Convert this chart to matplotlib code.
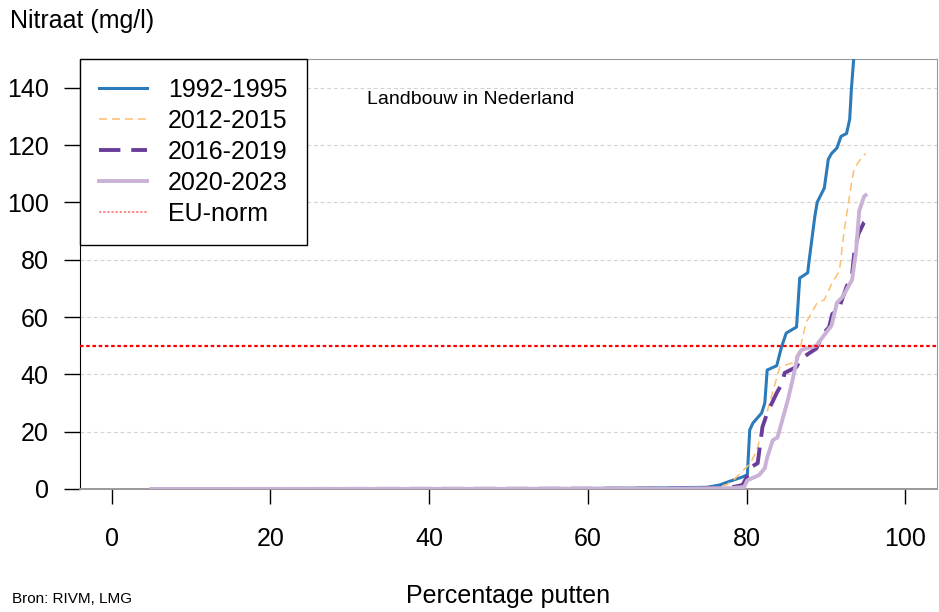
import matplotlib
matplotlib.use("Agg")
import matplotlib.pyplot as plt
from matplotlib.lines import Line2D

plt.rcParams["font.family"] = ["Liberation Sans", "DejaVu Sans"]

# nitraat per percentiel van de putten, per periode
x_1992 = [5, 60, 70, 75, 76.6, 78.2, 79.5, 80.1, 80.4, 80.8, 81.9, 82.3, 82.6, 83.8, 84.4,
          85.0, 86.3, 86.7, 87.7, 87.9, 88.6, 88.9, 89.8, 90.3, 90.7, 91.4, 91.9, 92.6, 93.0,
          93.2, 93.5, 94.0, 95.0]
y_1992 = [0, 0.2, 0.4, 0.6, 1.4, 3.0, 4.2, 5.0, 20.6, 23, 26.5, 30, 41.5, 43, 49.5,
          54.4, 56.5, 73.6, 75.4, 80, 95, 100, 105, 115, 117, 119, 123, 124, 129,
          139, 150, 165, 190]

x_2012 = [5, 70, 76, 77.5, 78.5, 79.4, 80.5, 81.3, 82.9, 84.2, 85.8, 86.7, 87.5, 88.9,
          89.8, 90.8, 91.7, 92.3, 93.3, 93.6, 94.6, 95.0]
y_2012 = [0, 0.2, 0.5, 1.5, 3.5, 6, 9, 13.6, 30, 42.6, 44, 48.5, 58, 65,
          66, 72, 76, 90, 108, 112, 116, 117]

x_2016 = [5, 70, 77, 78.5, 79.5, 80.0, 80.6, 81.4, 82.0, 82.6, 83.8, 84.5, 84.8, 86.3,
          86.7, 87.9, 88.8, 89.6, 90.4, 90.8, 91.7, 92.6, 93.3, 93.6, 94.1, 94.8, 95.0]
y_2016 = [0, 0.1, 0.3, 0.8, 1.4, 4, 7.7, 9, 21.6, 26.5, 33.5, 37, 40.5, 42.6,
          45, 47.4, 49, 54, 56.5, 61, 63.5, 70.5, 75, 83, 89, 93, 93.5]

x_2020 = [5, 70, 78, 79.7, 80.1, 81.6, 82.3, 82.6, 83.3, 83.9, 84.5, 85.2, 85.8, 86.4,
          86.9, 88.8, 89.6, 90.7, 91.4, 92.1, 93.3, 93.8, 94.2, 94.8, 95.0]
y_2020 = [0, 0.1, 0.3, 0.7, 3, 4.9, 7.3, 11, 17, 18, 24, 31, 38, 46,
          48.5, 50, 53, 57, 65, 67, 73, 83, 97, 102, 102.5]

eu_norm = 50

periods = ["1992-1995", "2012-2015", "2016-2019", "2020-2023"]
colors = ["#2b7bba", "#fdbf6f", "#6a3d9a", "#cab2d6"]
styles = ["-", (0, (5.2, 3.3)), (0, (5.5, 2.8)), "-"]
widths = [2.2, 1.1, 2.8, 2.8]

x_ticks = [0, 20, 40, 60, 80, 100]
y_ticks = [0, 20, 40, 60, 80, 100, 120, 140]

fig = plt.figure(figsize=(9.39, 6.12), dpi=100)
ax = fig.add_axes([80 / 939, 1 - 489 / 612, 857 / 939, 430 / 612])
ax.set_xlim(-4, 104)
ax.set_ylim(0, 150)

for yt in y_ticks[1:]:
    ax.axhline(yt, color="#d2d2d2", lw=0.8, ls=(0, (3.5, 2.5)), zorder=1)

series = [(x_1992, y_1992), (x_2012, y_2012), (x_2016, y_2016), (x_2020, y_2020)]
handles = []
for (xs, ys), lab, c, ls, lw in zip(series, periods, colors, styles, widths):
    ln, = ax.plot(xs, ys, color=c, ls=ls, lw=lw, zorder=3, label=lab)
    handles.append(ln)

ax.axhline(eu_norm, color="#ff0000", lw=1.6, ls=(0, (1.6, 1.2)), zorder=4)
handles.append(Line2D([], [], color="#ff6b6b", lw=1.1, ls=(0, (1.5, 1.2))))

leg = ax.legend(handles, periods + ["EU-norm"], loc="upper left",
                bbox_to_anchor=(0, 1), borderaxespad=0, fontsize=18,
                handlelength=1.92, handletextpad=0.85, borderpad=0.75,
                labelspacing=0.28, fancybox=False, framealpha=1,
                edgecolor="black")
leg.get_frame().set_linewidth(1.0)
leg.set_zorder(5)

ax.text(32.2, 135.7, "Landbouw in Nederland", fontsize=14, va="center", ha="left")

ax.set_xticks(x_ticks)
ax.set_yticks(y_ticks)
ax.tick_params(axis="x", length=11, width=1, pad=16, labelsize=18)
ax.tick_params(axis="y", length=11.5, width=1, pad=11, labelsize=18)

for side in ["top", "right", "bottom"]:
    ax.spines[side].set_color("#999999")
ax.spines["left"].set_color("black")
ax.spines["bottom"].set_linewidth(1.4)

fig.text(10 / 939, 1 - 28 / 612, "Nitraat (mg/l)", fontsize=18, va="baseline", ha="left")
fig.text(508 / 939, 1 - 603 / 612, "Percentage putten", fontsize=18, va="baseline", ha="center")
fig.text(12 / 939, 1 - 603 / 612, "Bron: RIVM, LMG", fontsize=11, va="baseline", ha="left")

fig.savefig("out.png", dpi=100)
